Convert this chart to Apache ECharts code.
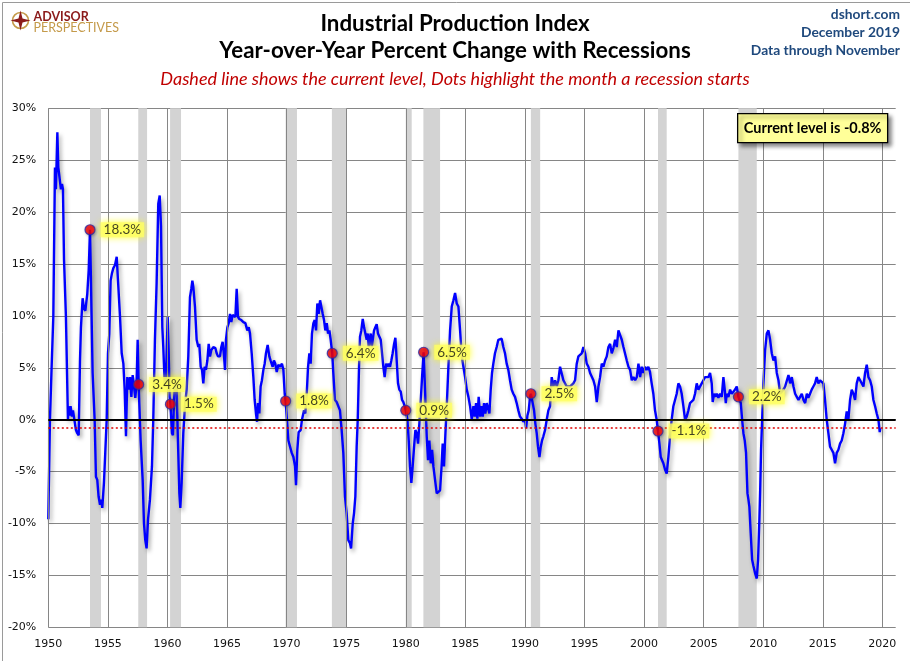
<!DOCTYPE html>
<html>
<head>
<meta charset="utf-8">
<script src="https://cdn.jsdelivr.net/npm/echarts@6/dist/echarts.min.js"></script>
<style>
html,body{margin:0;padding:0;background:#fff;}
#chart{width:910px;height:661px;}
</style>
</head>
<body>
<div id="chart"></div>
<script>
// ---------- DATA ----------
// Year-over-year % change of the Industrial Production Index, [decimal year, value]
const yoyPoints = [
[1950.00,-9.6],[1950.14,0.0],[1950.28,5.1],[1950.42,9.9],[1950.56,24.3],[1950.64,22.2],[1950.76,27.7],[1950.84,24.3],[1950.98,24.2],[1951.06,22.2],[1951.15,22.7],[1951.23,22.2],[1951.32,15.4],[1951.48,9.9],[1951.65,0.0],[1951.71,1.3],[1951.79,0.4],[1951.87,1.3],[1951.99,0.3],[1952.07,0.9],[1952.18,0.8],[1952.32,-1.0],[1952.43,-1.3],[1952.55,-1.5],[1952.66,5.7],[1952.74,8.9],[1952.88,11.7],[1952.99,10.7],[1953.11,10.5],[1953.27,12.1],[1953.39,14.4],[1953.50,18.3],[1953.61,11.5],[1953.72,4.5],[1953.89,0.0],[1954.00,-5.5],[1954.11,-5.8],[1954.22,-7.4],[1954.34,-8.2],[1954.45,-7.7],[1954.53,-8.5],[1954.67,-6.1],[1954.78,-3.2],[1954.90,0.0],
[1955.01,6.4],[1955.12,8.3],[1955.23,13.4],[1955.34,14.1],[1955.46,14.6],[1955.60,14.9],[1955.74,15.7],[1955.85,13.4],[1956.02,9.9],[1956.16,6.4],[1956.30,5.4],[1956.41,2.9],[1956.52,-1.6],[1956.63,4.1],[1956.74,2.9],[1956.86,4.1],[1956.97,2.2],[1957.08,4.3],[1957.19,3.2],[1957.30,2.1],[1957.41,3.5],[1957.50,7.7],[1957.58,3.4],[1957.75,-2.0],[1957.92,-5.8],[1958.03,-10.0],[1958.14,-11.6],[1958.25,-12.4],[1958.37,-9.6],[1958.53,-7.7],[1958.70,-4.5],[1958.81,0.0],[1958.95,7.7],[1959.09,13.1],[1959.23,20.8],[1959.35,21.6],[1959.46,18.6],[1959.57,8.9],[1959.65,7.0],[1959.77,3.5],[1959.85,3.2],[1959.93,6.4],
[1960.02,9.9],[1960.10,6.7],[1960.18,2.2],[1960.25,1.5],[1960.38,-1.3],[1960.46,-1.5],[1960.55,1.9],[1960.66,3.8],[1960.77,2.9],[1960.88,-2.0],[1961.00,-7.1],[1961.08,-8.5],[1961.19,-6.1],[1961.33,-1.3],[1961.47,1.3],[1961.61,2.9],[1961.75,6.1],[1961.89,11.8],[1962.00,12.6],[1962.09,13.4],[1962.17,12.8],[1962.31,10.9],[1962.45,7.7],[1962.59,7.0],[1962.67,7.3],[1962.79,5.1],[1962.90,4.8],[1963.01,3.5],[1963.12,5.1],[1963.23,4.8],[1963.35,5.7],[1963.46,7.3],[1963.57,6.1],[1963.68,6.7],[1963.85,7.0],[1964.02,6.9],[1964.13,6.4],[1964.24,6.1],[1964.41,6.1],[1964.52,7.0],[1964.63,7.5],[1964.75,6.1],[1964.83,4.8],[1964.91,7.7],
[1965.03,8.9],[1965.14,9.3],[1965.25,10.2],[1965.36,9.4],[1965.47,10.1],[1965.58,10.2],[1965.70,9.9],[1965.81,12.6],[1965.92,9.9],[1966.03,9.7],[1966.20,9.6],[1966.37,9.4],[1966.54,9.3],[1966.70,8.6],[1966.82,8.9],[1966.93,8.3],[1967.07,6.4],[1967.21,4.1],[1967.32,1.9],[1967.43,0.6],[1967.52,-0.2],[1967.60,1.6],[1967.71,0.6],[1967.82,3.2],[1967.93,3.8],[1968.05,4.8],[1968.16,5.4],[1968.27,6.4],[1968.41,7.2],[1968.55,6.1],[1968.66,5.7],[1968.83,5.1],[1968.94,5.7],[1969.05,5.4],[1969.17,4.6],[1969.31,5.3],[1969.45,5.1],[1969.61,5.4],[1969.73,4.8],[1969.84,2.5],[1969.92,1.8],
[1970.15,-2.0],[1970.29,-2.1],[1970.43,-3.2],[1970.57,-3.6],[1970.71,-4.5],[1970.79,-6.3],[1970.90,-2.9],[1971.01,-1.2],[1971.18,-1.0],[1971.29,0.0],[1971.46,0.9],[1971.57,0.6],[1971.69,2.5],[1971.80,5.1],[1971.91,6.4],[1972.02,5.4],[1972.13,8.3],[1972.25,9.3],[1972.36,9.6],[1972.47,8.6],[1972.58,11.2],[1972.69,10.2],[1972.81,11.5],[1972.92,11.6],[1973.03,10.2],[1973.14,9.6],[1973.25,8.6],[1973.37,9.3],[1973.48,8.3],[1973.59,8.6],[1973.70,7.7],[1973.83,6.4],[1973.92,4.5],[1974.06,1.9],[1974.20,1.7],[1974.34,1.6],[1974.48,0.9],[1974.62,-1.0],[1974.76,-3.2],[1974.90,-7.4],
[1975.04,-9.0],[1975.18,-11.6],[1975.32,-11.9],[1975.41,-12.4],[1975.55,-10.0],[1975.66,-9.0],[1975.77,-7.4],[1975.88,-2.6],[1975.97,0.0],[1976.08,5.1],[1976.16,8.0],[1976.27,8.6],[1976.39,9.7],[1976.50,8.9],[1976.61,8.3],[1976.72,7.7],[1976.81,8.3],[1976.89,7.0],[1976.97,7.7],[1977.06,8.3],[1977.14,7.0],[1977.23,7.7],[1977.34,8.6],[1977.45,8.9],[1977.56,9.2],[1977.67,8.3],[1977.79,8.3],[1977.90,7.7],[1978.01,6.4],[1978.12,5.1],[1978.23,4.1],[1978.35,5.4],[1978.46,5.1],[1978.57,5.4],[1978.68,5.1],[1978.79,5.7],[1978.90,6.4],[1979.02,7.3],[1979.13,7.9],[1979.24,5.7],[1979.35,3.5],[1979.46,2.9],[1979.58,2.7],[1979.69,1.9],[1979.80,1.7],[1979.91,1.3],
[1980.00,0.9],[1980.14,0.0],[1980.25,-2.0],[1980.36,-4.5],[1980.47,-6.1],[1980.58,-4.5],[1980.70,-2.6],[1980.81,-1.0],[1980.92,-1.3],[1981.03,-2.3],[1981.14,-0.4],[1981.26,1.9],[1981.37,4.1],[1981.50,6.5],[1981.65,1.9],[1981.76,-1.6],[1981.87,-3.9],[1981.98,-2.0],[1982.10,-4.2],[1982.21,-2.9],[1982.32,-4.5],[1982.46,-5.8],[1982.60,-7.1],[1982.74,-7.1],[1982.88,-6.8],[1982.99,-4.8],[1983.10,-2.3],[1983.21,-4.5],[1983.33,-1.3],[1983.44,1.3],[1983.58,5.1],[1983.72,8.6],[1983.86,10.9],[1984.00,11.5],[1984.14,12.2],[1984.28,11.2],[1984.42,10.9],[1984.56,8.6],[1984.70,6.1],[1984.84,5.1],[1984.98,4.1],
[1985.12,2.9],[1985.26,2.2],[1985.40,1.3],[1985.54,0.0],[1985.68,1.3],[1985.79,0.3],[1985.90,1.6],[1986.01,0.1],[1986.12,2.2],[1986.24,0.3],[1986.35,1.3],[1986.46,0.3],[1986.57,1.6],[1986.68,0.6],[1986.80,1.6],[1986.91,1.6],[1987.02,0.6],[1987.13,2.9],[1987.24,4.5],[1987.35,5.4],[1987.49,6.4],[1987.63,7.0],[1987.77,7.7],[1987.91,7.7],[1988.05,7.8],[1988.19,7.0],[1988.33,6.4],[1988.47,5.4],[1988.61,4.8],[1988.75,3.8],[1988.89,2.9],[1989.03,2.5],[1989.17,2.2],[1989.31,1.6],[1989.45,0.9],[1989.59,0.3],[1989.73,0.1],[1989.87,-0.2],
[1990.01,0.0],[1990.10,-0.8],[1990.21,0.4],[1990.32,0.9],[1990.43,2.2],[1990.50,2.5],[1990.66,2.4],[1990.77,0.9],[1990.88,-0.4],[1990.99,-1.3],[1991.10,-2.6],[1991.22,-3.6],[1991.33,-2.6],[1991.44,-2.0],[1991.55,-1.6],[1991.69,-1.0],[1991.83,0.0],[1991.97,0.9],[1992.11,1.3],[1992.25,4.1],[1992.39,3.2],[1992.53,3.8],[1992.67,3.2],[1992.81,3.8],[1992.95,5.1],[1993.23,3.8],[1993.51,3.2],[1993.79,3.2],[1994.07,3.5],[1994.21,3.8],[1994.35,5.4],[1994.49,6.1],[1994.63,6.2],[1994.77,6.4],[1994.91,7.0],
[1995.05,6.4],[1995.19,5.4],[1995.33,5.1],[1995.47,4.5],[1995.61,4.6],[1995.75,3.8],[1995.89,3.2],[1996.03,1.7],[1996.17,3.2],[1996.31,4.1],[1996.45,5.4],[1996.59,5.1],[1996.73,5.7],[1996.87,6.1],[1997.01,7.0],[1997.15,7.3],[1997.29,6.4],[1997.43,6.9],[1997.57,7.7],[1997.71,7.0],[1997.85,8.6],[1997.99,8.5],[1998.13,7.7],[1998.27,7.0],[1998.41,7.0],[1998.55,5.7],[1998.69,5.1],[1998.83,4.8],[1998.97,3.8],[1999.11,4.1],[1999.25,3.8],[1999.39,4.1],[1999.53,5.4],[1999.67,4.1],[1999.80,5.1],[1999.94,4.5],
[2000.08,5.1],[2000.22,4.8],[2000.36,5.1],[2000.50,4.6],[2000.64,3.5],[2000.78,2.5],[2000.92,0.9],[2001.06,0.0],[2001.17,-1.1],[2001.29,-2.3],[2001.40,-3.6],[2001.51,-3.9],[2001.62,-4.2],[2001.76,-4.8],[2001.90,-5.2],[2002.04,-3.6],[2002.18,-1.6],[2002.32,0.0],[2002.46,1.3],[2002.60,1.9],[2002.74,2.5],[2002.88,3.5],[2003.02,3.2],[2003.16,2.5],[2003.30,1.3],[2003.44,0.0],[2003.58,0.3],[2003.72,0.9],[2003.86,1.6],[2004.00,1.6],[2004.14,1.9],[2004.28,2.5],[2004.42,3.5],[2004.56,2.9],[2004.70,2.9],[2004.84,3.5],[2004.98,3.8],
[2005.12,4.1],[2005.26,4.1],[2005.40,4.1],[2005.54,4.5],[2005.68,3.5],[2005.76,1.7],[2005.88,2.5],[2005.99,2.2],[2006.10,2.5],[2006.24,2.1],[2006.38,2.5],[2006.52,2.2],[2006.66,4.1],[2006.77,2.9],[2006.86,1.6],[2006.94,2.5],[2007.08,2.2],[2007.22,2.9],[2007.36,2.5],[2007.50,2.7],[2007.64,2.9],[2007.78,3.2],[2007.92,2.2],[2008.12,1.6],[2008.23,0.0],[2008.34,-1.3],[2008.45,-2.0],[2008.56,-3.2],[2008.68,-7.1],[2008.76,-7.7],[2008.84,-8.4],[2008.95,-10.9],[2009.07,-13.5],[2009.18,-14.1],[2009.32,-14.8],[2009.46,-15.3],[2009.57,-13.5],[2009.68,-9.6],[2009.74,-7.1],[2009.82,-2.9],[2009.91,0.0],
[2010.02,3.5],[2010.16,6.7],[2010.30,8.3],[2010.44,8.6],[2010.58,7.7],[2010.72,6.4],[2010.86,5.7],[2011.00,6.1],[2011.14,4.5],[2011.28,3.8],[2011.42,2.5],[2011.56,2.5],[2011.70,2.9],[2011.84,3.2],[2011.98,3.3],[2012.12,4.3],[2012.26,3.5],[2012.40,4.1],[2012.54,3.2],[2012.68,2.5],[2012.82,2.2],[2012.96,1.9],[2013.10,2.2],[2013.24,2.5],[2013.38,1.9],[2013.52,1.6],[2013.66,2.5],[2013.79,2.1],[2013.93,2.5],[2014.07,2.9],[2014.21,3.2],[2014.35,3.5],[2014.49,4.1],[2014.63,3.5],[2014.77,3.8],[2014.91,3.7],
[2015.05,3.5],[2015.19,1.9],[2015.33,0.0],[2015.47,-1.3],[2015.61,-2.6],[2015.75,-2.9],[2015.89,-3.2],[2016.03,-4.2],[2016.17,-3.2],[2016.31,-2.9],[2016.45,-2.3],[2016.59,-2.0],[2016.73,-1.3],[2016.87,-0.4],[2017.01,0.8],[2017.15,0.0],[2017.29,1.9],[2017.43,2.9],[2017.57,2.5],[2017.71,1.9],[2017.85,3.5],[2017.99,4.1],[2018.13,3.8],[2018.27,3.8],[2018.41,3.2],[2018.55,4.5],[2018.69,5.3],[2018.83,4.1],[2018.97,3.8],[2019.11,3.2],[2019.25,1.9],[2019.39,1.3],[2019.53,0.6],[2019.67,0.0],[2019.78,-1.2],[2019.83,-0.8]
];

// NBER recessions (decimal years, as shaded in the reference)
const recessionStarts = [1953.50, 1957.55, 1960.22, 1969.92, 1973.80, 1980.00, 1981.48, 1990.50, 2001.17, 2007.92];
const recessionEnds   = [1954.42, 1958.29, 1961.14, 1970.87, 1975.07, 1980.50, 1982.88, 1991.28, 2001.90, 2009.46];

// Month a recession starts and the YoY value then
const dotYears  = [1953.50, 1957.58, 1960.25, 1969.92, 1973.83, 1980.00, 1981.50, 1990.50, 2001.17, 2007.92];
const dotValues = [18.3, 3.4, 1.5, 1.8, 6.4, 0.9, 6.5, 2.5, -1.1, 2.2];

const currentLevel = -0.8;
const xTickYears = [1950,1955,1960,1965,1970,1975,1980,1985,1990,1995,2000,2005,2010,2015,2020];
const yMin = -20, yMax = 30, yStep = 5;
const xMin = 1950, xMax = 2021.12, xStep = 5;

// ---------- CHART ----------
const chart = echarts.init(document.getElementById('chart'), null, {renderer: 'canvas'});
const FONT = 'Lato, "Open Sans", sans-serif';
const AXFONT = '"DejaVu Sans", Verdana, sans-serif';

const gridLines = xTickYears.map(v => ({xAxis: v, lineStyle: {color: '#868686', width: 1, type: 'solid'}}));
const levelLines = [
  {yAxis: currentLevel, lineStyle: {color: '#e00000', width: 1.5, type: [2, 2.5]}},
  {yAxis: 0, lineStyle: {color: '#000', width: 2, type: 'solid'}}
];
const bandAreas = recessionStarts.map((s, i) => [{xAxis: s}, {xAxis: recessionEnds[i]}]);

chart.setOption({
  animation: false,
  backgroundColor: '#fff',
  title: [
    {text: 'Industrial Production Index', left: 'center', top: 8,
     textStyle: {fontFamily: FONT, fontSize: 22.3, fontWeight: 'bold', color: '#000'}},
    {text: 'Year-over-Year Percent Change with Recessions', left: 'center', top: 35,
     textStyle: {fontFamily: FONT, fontSize: 22.3, fontWeight: 'bold', color: '#000'}},
    {text: 'Dashed line shows the current level, Dots highlight the month a recession starts', left: 'center', top: 65,
     textStyle: {fontFamily: FONT, fontSize: 18, fontStyle: 'italic', fontWeight: 'normal', color: '#c00000'}},
    {text: 'dshort.com', right: 5, top: 3,
     textStyle: {fontFamily: FONT, fontSize: 13.8, fontWeight: 'bold', color: '#1f497d'}},
    {text: 'December 2019', right: 5, top: 21,
     textStyle: {fontFamily: FONT, fontSize: 13.8, fontWeight: 'bold', color: '#1f497d'}},
    {text: 'Data through November', right: 5, top: 39,
     textStyle: {fontFamily: FONT, fontSize: 13.8, fontWeight: 'bold', color: '#1f497d'}}
  ],
  grid: {left: 48.3, right: 14.3, top: 108.3, bottom: 33.7, containLabel: false},
  xAxis: {
    type: 'value', min: xMin, max: xMax, interval: xStep,
    axisLine: {show: false}, axisTick: {show: false}, splitLine: {show: false},
    axisLabel: {
      margin: 11, color: '#111', fontFamily: AXFONT, fontSize: 11,
      formatter: v => (xTickYears.indexOf(Math.round(v * 1000) / 1000) >= 0 ? String(v) : '')
    }
  },
  yAxis: {
    type: 'value', min: yMin, max: yMax, interval: yStep,
    axisLine: {show: false}, axisTick: {show: false},
    splitLine: {show: true, lineStyle: {color: '#868686', width: 1}},
    axisLabel: {margin: 12, color: '#111', fontFamily: AXFONT, fontSize: 11, formatter: v => v + '%'}
  },
  series: [
    {
      name: 'Recessions', type: 'line', z: 1, silent: true, data: [],
      markArea: {silent: true, animation: false, itemStyle: {color: '#d3d3d3', opacity: 1}, label: {show: false}, data: bandAreas}
    },
    {
      name: 'Grid', type: 'line', z: 2, silent: true, data: [],
      markLine: {silent: true, symbol: ['none', 'none'], label: {show: false}, animation: false, data: gridLines.concat(levelLines)}
    },
    {
      name: 'YoY', type: 'line', z: 3, data: yoyPoints, showSymbol: false, symbol: 'none',
      lineStyle: {color: '#0000ff', width: 2.4, shadowColor: 'rgba(0,0,0,0.35)', shadowBlur: 4, shadowOffsetX: 2, shadowOffsetY: 3}
    },
    {
      name: 'Recession start', type: 'scatter', z: 5,
      data: dotYears.map((x, i) => [x, dotValues[i]]),
      symbol: 'circle', symbolSize: 10,
      itemStyle: {color: '#ff0000', borderColor: '#2a2aa8', borderWidth: 1.2, shadowColor: 'rgba(0,0,0,0.3)', shadowBlur: 3, shadowOffsetX: 1, shadowOffsetY: 1},
      label: {
        show: true, position: 'right', distance: 5,
        formatter: p => p.value[1].toFixed(1) + '%',
        fontFamily: FONT, fontSize: 13.5, color: '#111',
        backgroundColor: '#ffff66', padding: [1, 3, 0, 3],
        shadowColor: 'rgba(255,255,0,1)', shadowBlur: 7
      }
    }
  ],
  graphic: [
    {type: 'rect', z: 100, left: 0, top: 0, shape: {x: 0.5, y: 0.5, width: 909, height: 660}, style: {fill: null, stroke: '#9a9a9a', lineWidth: 1}, silent: true},
    {type: 'group', z: 100, left: 737, top: 113, children: [
      {type: 'rect', z: 100, shape: {x: 0, y: 0, width: 150, height: 29},
       style: {fill: '#ffff99', stroke: '#000', lineWidth: 1.3, shadowColor: 'rgba(0,0,0,0.45)', shadowBlur: 4, shadowOffsetX: 3, shadowOffsetY: 3}},
      {type: 'text', z: 101, x: 75, y: 15,
       style: {text: 'Current level is ' + currentLevel.toFixed(1) + '%', fontFamily: FONT, fontSize: 14.5, fontWeight: 'bold', fill: '#000', align: 'center', verticalAlign: 'middle'}}
    ]},
    {type: 'group', z: 100, left: 10, top: 10, children: [
      {type: 'circle', shape: {cx: 10, cy: 10, r: 8}, style: {fill: 'none', stroke: '#c49a4a', lineWidth: 1.6}},
      {type: 'polygon', shape: {points: [[10, 0], [12, 8], [20, 10], [12, 12], [10, 20], [8, 12], [0, 10], [8, 8]]}, style: {fill: '#8b1a1a'}},
      {type: 'text', x: 23, y: 0, style: {text: 'ADVISOR', fontFamily: FONT, fontSize: 12.5, fontWeight: 'bold', fill: '#8b1a1a'}},
      {type: 'text', x: 23, y: 10.5, style: {text: 'PERSPECTIVES', fontFamily: FONT, fontSize: 12.5, fontWeight: 'normal', fill: '#c49a4a'}}
    ]}
  ]
});
</script>
</body>
</html>
